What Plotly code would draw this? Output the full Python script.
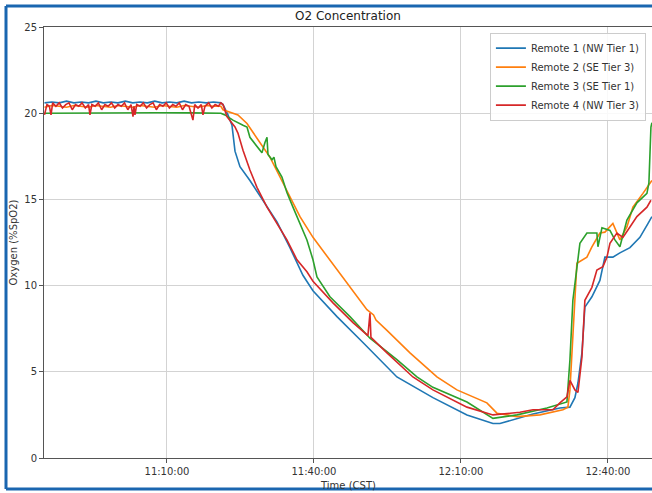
import plotly.graph_objects as go
import pandas as pd

DAY = "2024-01-01 "

series_names = ["Remote 1 (NW Tier 1)", "Remote 2 (SE Tier 3)", "Remote 3 (SE Tier 1)", "Remote 4 (NW Tier 3)"]
series_colors = ["#1f77b4", "#ff7f0e", "#2ca02c", "#d62728"]

r1_time = ["10:45:00", "10:46:30", "10:48:00", "10:49:30", "10:51:00", "10:52:30", "10:54:00", "10:55:30",
           "10:57:00", "10:58:30", "11:00:00", "11:01:30", "11:03:00", "11:04:30", "11:06:00", "11:07:30",
           "11:09:00", "11:10:30", "11:12:00", "11:13:30", "11:15:00", "11:16:30", "11:18:00", "11:19:30",
           "11:21:00", "11:21:26", "11:22:27", "11:23:16", "11:23:53", "11:24:54", "11:26:56", "11:28:59",
           "11:32:27", "11:35:06", "11:37:45", "11:39:48", "11:44:42", "11:50:00", "11:56:56", "12:04:17",
           "12:11:14", "12:16:32", "12:17:58", "12:24:42", "12:30:12", "12:32:15", "12:33:16", "12:33:53",
           "12:34:42", "12:35:18", "12:36:44", "12:38:22", "12:39:23", "12:41:01", "12:42:27", "12:44:30",
           "12:46:32", "12:48:10", "12:48:59"]
r1_o2 = [20.6, 20.65, 20.6, 20.7, 20.6, 20.65, 20.6, 20.7,
         20.6, 20.65, 20.6, 20.7, 20.6, 20.65, 20.6, 20.7,
         20.6, 20.65, 20.6, 20.7, 20.6, 20.65, 20.6, 20.65,
         20.6, 20.5, 19.9, 19.3, 17.8, 16.9, 16.1, 15.2,
         13.7, 12.2, 10.6, 9.7, 8.2, 6.7, 4.7, 3.5,
         2.5, 2.0, 2.0, 2.55, 2.9, 2.95, 3.5, 4.35,
         6.1, 8.75, 9.35, 10.3, 11.65, 11.65, 11.9, 12.2,
         12.8, 13.6, 14.0]

r2_time = ["10:45:00", "10:46:30", "10:48:00", "10:49:30", "10:51:00", "10:52:30", "10:54:00", "10:55:30",
           "10:57:00", "10:58:30", "11:00:00", "11:01:30", "11:03:00", "11:04:30", "11:06:00", "11:07:30",
           "11:09:00", "11:10:30", "11:12:00", "11:13:30", "11:15:00", "11:16:30", "11:18:00", "11:19:30",
           "11:21:00", "11:21:26", "11:24:29", "11:26:20", "11:28:22", "11:31:01", "11:33:04", "11:35:06",
           "11:37:09", "11:39:48", "11:43:16", "11:47:21", "11:50:49", "11:52:10", "11:52:40", "11:54:54",
           "11:59:36", "12:05:06", "12:09:11", "12:15:18", "12:17:21", "12:21:26", "12:26:07", "12:30:49",
           "12:31:50", "12:32:15", "12:32:51", "12:33:40", "12:35:43", "12:36:44", "12:38:22", "12:39:23",
           "12:41:01", "12:42:27", "12:43:53", "12:45:06", "12:47:09", "12:48:10", "12:48:59"]
r2_o2 = [20.35, 20.45, 20.4, 20.35, 20.45, 20.4, 20.35, 20.45,
         20.4, 20.35, 20.45, 20.4, 20.35, 20.45, 20.4, 20.35,
         20.45, 20.4, 20.35, 20.45, 20.4, 20.35, 20.45, 20.4,
         20.4, 20.2, 19.9, 19.4, 18.55, 17.45, 16.3, 15.15,
         14.0, 12.8, 11.5, 9.9, 8.6, 8.3, 8.0, 7.4,
         6.1, 4.7, 3.95, 3.2, 2.6, 2.4, 2.5, 2.8,
         2.95, 3.95, 7.25, 11.3, 11.65, 12.25, 13.05, 13.1,
         13.6, 12.65, 13.4, 14.55, 15.35, 15.8, 16.1]

r3_time = ["10:45:00", "10:52:00", "11:00:00", "11:08:00", "11:15:00", "11:21:00", "11:21:50", "11:23:28",
           "11:25:31", "11:26:20", "11:26:56", "11:28:34", "11:29:23", "11:30:00", "11:30:25", "11:30:37",
           "11:31:26", "11:31:50", "11:32:15", "11:33:28", "11:34:29", "11:35:43", "11:37:09", "11:38:34",
           "11:39:48", "11:40:37", "11:43:16", "11:47:21", "11:51:26", "11:56:56", "12:01:01", "12:04:17",
           "12:11:14", "12:16:32", "12:21:26", "12:27:33", "12:31:38", "12:32:15", "12:32:51", "12:34:17",
           "12:35:43", "12:37:45", "12:37:58", "12:38:47", "12:40:25", "12:41:26", "12:42:27", "12:43:53",
           "12:45:55", "12:47:58", "12:48:22", "12:48:47", "12:48:59"]
r3_o2 = [20.0, 20.02, 20.0, 20.03, 20.02, 20.0, 19.9, 19.6,
         19.3, 19.2, 18.6, 18.0, 17.7, 18.3, 18.6, 17.6,
         17.3, 17.45, 16.9, 16.3, 15.4, 14.55, 13.6, 12.65,
         11.5, 10.5, 9.35, 8.2, 6.95, 5.7, 4.7, 4.1,
         3.25, 2.3, 2.5, 2.9, 3.25, 5.7, 9.15, 12.45,
         13.05, 13.05, 12.25, 13.35, 13.2, 12.65, 12.25, 13.8,
         14.8, 15.35, 15.95, 19.2, 19.45]

r4_time = ["10:45:00", "10:45:30", "10:46:00", "10:46:20", "10:46:40", "10:47:20", "10:48:00", "10:48:40",
           "10:49:20", "10:50:00", "10:50:40", "10:51:20", "10:52:00", "10:52:40", "10:53:20", "10:54:00",
           "10:54:17", "10:54:40", "10:55:20", "10:56:00", "10:56:40", "10:57:20", "10:58:00", "10:58:40",
           "10:59:20", "11:00:00", "11:00:40", "11:01:20", "11:02:00", "11:02:40", "11:03:04", "11:03:16",
           "11:03:28", "11:03:50", "11:04:30", "11:05:10", "11:05:50", "11:06:30", "11:07:10", "11:07:50",
           "11:08:30", "11:09:10", "11:09:50", "11:10:30", "11:11:10", "11:11:50", "11:12:30", "11:13:10",
           "11:13:50", "11:14:30", "11:15:18", "11:15:40", "11:16:20", "11:17:00", "11:17:21", "11:17:45",
           "11:18:30", "11:19:10", "11:19:50", "11:20:30", "11:21:00", "11:21:26", "11:22:15", "11:23:53",
           "11:24:29", "11:25:31", "11:26:56", "11:28:22", "11:30:25", "11:32:27", "11:34:29", "11:36:32",
           "11:38:34", "11:39:48", "11:43:53", "11:47:58", "11:51:01", "11:51:26", "11:51:38", "11:54:54",
           "12:00:12", "12:04:17", "12:11:14", "12:16:32", "12:22:02", "12:24:42", "12:28:47", "12:30:12",
           "12:31:38", "12:32:15", "12:33:16", "12:33:53", "12:34:42", "12:35:18", "12:36:44", "12:37:45",
           "12:38:59", "12:39:48", "12:40:25", "12:41:50", "12:43:04", "12:44:30", "12:45:55", "12:47:58",
           "12:48:47"]
r4_o2 = [19.9, 20.5, 20.4, 19.9, 20.6, 20.4, 20.6, 20.3,
         20.5, 20.6, 20.2, 20.5, 20.4, 20.6, 20.3, 20.5,
         19.9, 20.5, 20.4, 20.6, 20.2, 20.5, 20.4, 20.6,
         20.3, 20.5, 20.4, 20.6, 20.2, 20.5, 19.8, 20.4,
         19.9, 20.5, 20.4, 20.6, 20.3, 20.5, 20.6, 20.2,
         20.5, 20.4, 20.6, 20.3, 20.5, 20.4, 20.6, 20.2,
         20.5, 20.4, 19.6, 20.5, 20.3, 20.5, 19.9, 20.4,
         20.6, 20.3, 20.5, 20.4, 20.6, 20.5, 19.8, 19.2,
         18.85, 17.85, 16.7, 15.7, 14.55, 13.6, 12.65, 11.5,
         10.8, 10.25, 9.0, 7.85, 7.1, 8.4, 7.0, 6.1,
         4.7, 3.95, 2.95, 2.5, 2.65, 2.8, 2.8, 3.2,
         3.55, 4.5, 3.95, 3.8, 5.85, 9.15, 9.9, 10.9,
         11.1, 11.65, 12.45, 13.05, 12.8, 13.4, 14.0, 14.55,
         14.95]

x_tick_labels = ["11:10:00", "11:40:00", "12:10:00", "12:40:00"]
y_ticks = [0, 5, 10, 15, 20, 25]
x_range = ["10:44:54", "12:49:00"]

FONT = "DejaVu Sans"
SPINE = "#555555"
TXT = "#333333"

fig = go.Figure()
for name, color, t, v in zip(series_names, series_colors,
                             [r1_time, r2_time, r3_time, r4_time],
                             [r1_o2, r2_o2, r3_o2, r4_o2]):
    fig.add_trace(go.Scatter(
        x=pd.to_datetime([DAY + s for s in t]), y=v, mode="lines", name=name,
        line=dict(color=color, width=1.6)))

fig.update_layout(
    width=652, height=493,
    margin=dict(l=44, r=0, t=27, b=35, autoexpand=False),
    paper_bgcolor="white", plot_bgcolor="white",
    font=dict(family=FONT, size=10, color=TXT),
    title=dict(text="O2 Concentration", x=0.5, xref="paper", xanchor="center",
               y=1 - 16 / 493, yref="container", yanchor="middle",
               font=dict(family=FONT, size=12, color="#222222")),
    legend=dict(x=0.99, xanchor="right", y=0.987, yanchor="top",
                bgcolor="rgba(255,255,255,0.85)", bordercolor="#cccccc", borderwidth=1,
                font=dict(family=FONT, size=10, color=TXT), tracegroupgap=0,
                itemwidth=30),
    showlegend=True,
)

fig.update_xaxes(
    range=[DAY + x_range[0], DAY + x_range[1]],
    tickvals=[DAY + s for s in x_tick_labels], ticktext=x_tick_labels,
    showgrid=True, gridcolor="#d3d3d3", gridwidth=1,
    showline=True, linecolor=SPINE, linewidth=1, mirror=True,
    ticks="outside", ticklen=4, tickcolor=SPINE,
    zeroline=False, automargin=False,
)
fig.update_yaxes(
    range=[0, 25], tickvals=y_ticks,
    showgrid=True, gridcolor="#d3d3d3", gridwidth=1,
    showline=True, linecolor=SPINE, linewidth=1, mirror=False,
    ticks="outside", ticklen=4, tickcolor=SPINE,
    zeroline=False, automargin=False,
)

# axis titles
fig.add_annotation(text="Time (CST)", xref="paper", yref="paper", x=0.5, y=-(485 - 458) / 431,
                   xanchor="center", yanchor="middle", showarrow=False,
                   font=dict(family=FONT, size=10, color=TXT))
fig.add_annotation(text="Oxygen (%SpO2)", xref="paper", yref="paper", x=(13 - 44) / 608, y=0.5,
                   xanchor="center", yanchor="middle", textangle=-90, showarrow=False,
                   font=dict(family=FONT, size=10, color=TXT))

# blue frame around the picture (left, top, bottom edges)
BORDER = "#1a66b0"
fig.add_shape(type="line", xref="paper", yref="paper", x0=-0.0625, x1=-0.0625, y0=-0.072, y1=1.049,
              line=dict(color=BORDER, width=3))
fig.add_shape(type="line", xref="paper", yref="paper", x0=-0.0625, x1=1.01, y0=1.049, y1=1.049,
              line=dict(color=BORDER, width=3))
fig.add_shape(type="line", xref="paper", yref="paper", x0=-0.0625, x1=1.01, y0=-0.072, y1=-0.072,
              line=dict(color=BORDER, width=3))

fig.write_html("out.html", config={"displayModeBar": False},
               post_script="document.body.style.margin='0';document.body.style.overflow='hidden';")
